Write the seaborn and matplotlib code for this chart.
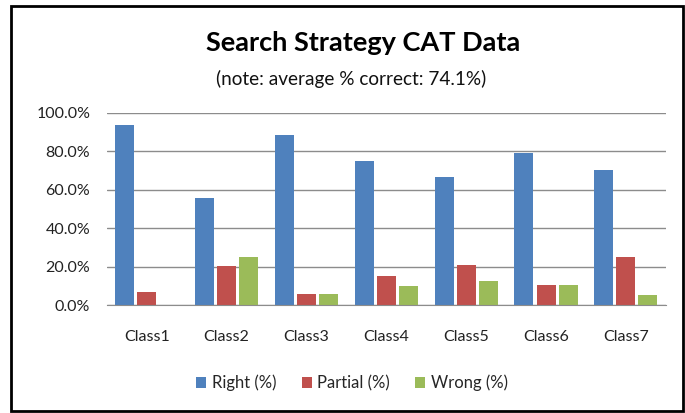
import numpy as np
import pandas as pd
import matplotlib
matplotlib.use("Agg")
import matplotlib.pyplot as plt
import seaborn as sns
from matplotlib.patches import Rectangle
from matplotlib.ticker import PercentFormatter

# data
classes = ["Class1", "Class2", "Class3", "Class4", "Class5", "Class6", "Class7"]
right = [93.9, 55.5, 88.7, 75.1, 66.6, 79.3, 70.4]
partial = [6.8, 20.2, 5.7, 15.1, 20.9, 10.4, 25.0]
wrong = [0.0, 24.9, 5.7, 9.9, 12.7, 10.4, 5.2]
series = ["Right (%)", "Partial (%)", "Wrong (%)"]
colors = ["#4F81BD", "#C0504D", "#9BBB59"]

df = pd.DataFrame({
    "cls": classes * 3,
    "series": np.repeat(series, len(classes)),
    "value": right + partial + wrong,
})

sns.set_style("white")
plt.rcParams["font.family"] = ["Lato", "DejaVu Sans"]

fig = plt.figure(figsize=(6.85, 4.13), dpi=100)
ax = fig.add_axes([0.156, 0.2615, 0.816, 0.4649])

sns.barplot(data=df, x="cls", y="value", hue="series", palette=colors,
            saturation=1, width=0.83, gap=0.14, linewidth=0, ax=ax, legend=True)

ax.set_ylim(0, 100)
ax.set_yticks(np.arange(0, 101, 20))
ax.yaxis.set_major_formatter(PercentFormatter(decimals=1))
ax.grid(axis="y", color="#8c8c8c", linewidth=1)
ax.set_axisbelow(True)
for s in ["top", "right", "left"]:
    ax.spines[s].set_visible(False)
ax.spines["bottom"].set_color("#8c8c8c")
ax.tick_params(axis="both", length=0, labelsize=11.5, colors="#222222")
ax.tick_params(axis="y", pad=12)
ax.tick_params(axis="x", pad=18)
ax.set_xlabel("")
ax.set_ylabel("")

ax.legend(loc="center", bbox_to_anchor=(0.514, 0.073), bbox_transform=fig.transFigure,
          ncol=3, frameon=False, fontsize=12, handlelength=0.6, handleheight=0.6,
          handletextpad=0.35, columnspacing=1.5)

fig.text(0.53, 0.895, "Search Strategy CAT Data", ha="center", va="center",
         fontsize=19.5, fontweight="bold", color="black")
fig.text(0.513, 0.808, "(note: average % correct: 74.1%)", ha="center", va="center",
         fontsize=13.7, color="#111111")

# chart frame
fig.patches.append(Rectangle((0.016, 0.006), 0.981, 0.98, transform=fig.transFigure,
                             fill=False, edgecolor="black", linewidth=2, zorder=10))

fig.savefig("out.png", dpi=100)
